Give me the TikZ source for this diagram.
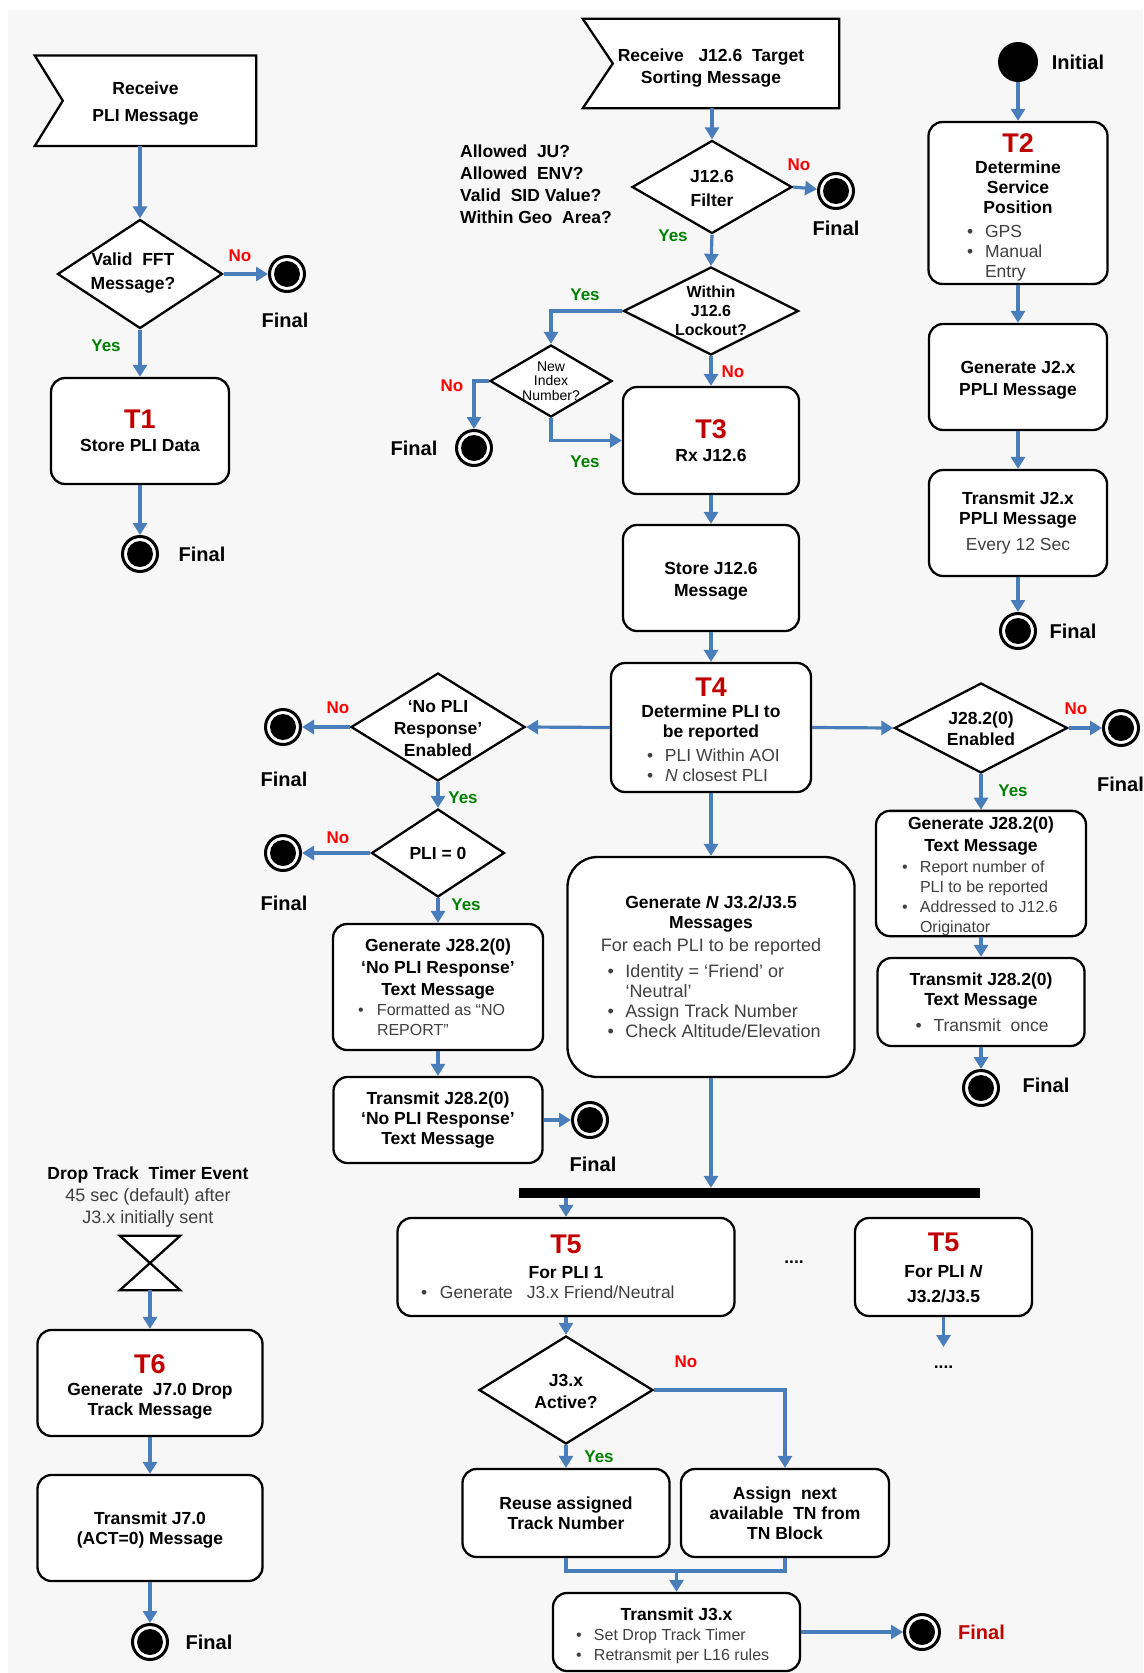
\documentclass[tikz,border=0pt]{standalone}
\usepackage{fontspec}
\setmainfont{Liberation Sans}
\usetikzlibrary{arrows.meta,shapes.geometric,backgrounds}
\definecolor{lblue}{RGB}{74,126,187}
\definecolor{tred}{RGB}{192,0,0}
\definecolor{nred}{RGB}{255,0,0}
\definecolor{ygreen}{RGB}{0,128,0}
\definecolor{dgray}{RGB}{64,64,64}
\definecolor{bggray}{RGB}{247,247,247}
\newcommand\bodyfont{\bfseries\fontsize{17.5}{20}\selectfont}
\newcommand\tlab[1]{{\fontsize{27}{27}\selectfont\color{tred}#1}}
\newcommand\rg{\mdseries\color{dgray}}
% extra head room above the first line of a box text
\newcommand\hr[1]{\rule{0pt}{#1pt}}
% bullet line: [font size]{block width}{bullet indent}{text}
\newcommand\bu[4][17.5]{\makebox[#2][l]{\rg\fontsize{#1}{20}\selectfont\makebox[#3][l]{\textbullet}#4}}
% continuation line of a bullet
\newcommand\bc[4][17.5]{\makebox[#2][l]{\rg\fontsize{#1}{20}\selectfont\hspace{#3}#4}}

\begin{document}
\begin{tikzpicture}[x=1pt,y=-1pt,
  conn/.style={draw=lblue,line width=3.2pt},
  arr/.style={conn,-{Triangle[length=12pt,width=14pt]}},
  box/.style={draw=black,line width=2.3pt,rounded corners=14pt,fill=white,align=center,inner sep=0pt,font=\bodyfont},
  bigbox/.style={box,rounded corners=30pt},
  dia/.style={diamond,draw=black,line width=2.3pt,fill=white,inner sep=0pt},
  txt/.style={align=center,inner sep=0pt,font=\bodyfont},
  wh/.style 2 args={minimum width=#1pt,minimum height=#2pt},
  fin/.style={circle,draw=black,line width=3pt,fill=white,minimum size=35pt,inner sep=0pt,
    path picture={\fill[black] (path picture bounding box.center) circle[radius=13pt];}},
  initnode/.style={circle,fill=black,minimum size=40pt,inner sep=0pt},
  flbl/.style={font=\bfseries\fontsize{20}{24}\selectfont,inner sep=0pt},
  yeslbl/.style={text=ygreen,font=\bfseries\fontsize{17}{20}\selectfont,inner sep=0pt},
  nolbl/.style={text=nred,font=\bfseries\fontsize{17}{20}\selectfont,inner sep=0pt},
  flagline/.style={draw=black,line width=2.3pt,fill=white},
]
\useasboundingbox (0,0) rectangle (1143,1673);

% ---------- PLI reception ----------
\node[txt,wh={221}{90}] (rcv) at (145.5,100.75) {\hr{18.7}Receive\\[7pt]PLI Message};
\node[dia,wh={165}{109}] (d1) at (140,274) {};
\node[txt] (d1t) at (133,273) {Valid\ \ FFT\\[4pt]Message?};
\node[nolbl] (no1) at (240,256) {No};
\node[fin] (fin1) at (287,274) {};
\node[flbl] (fin1l) at (285,320) {Final};
\node[yeslbl] (yes1) at (106,346) {Yes};
\node[box,wh={178}{106}] (t1) at (140,431) {\tlab{T1}\\[3pt]Store PLI Data};
\node[fin] (fin2) at (140,554) {};
\node[flbl] (fin2l) at (202,554) {Final};

% ---------- J12.6 reception ----------
\node[txt,wh={256}{89}] (rcv2) at (711,63.5) {\hr{21.5}Receive\ \ \ J12.6\ \ Target\\[2pt]Sorting Message};
\node[txt,align=left,anchor=west] (allow) at (460,184) {Allowed\ \ JU?\\[2pt]Allowed\ \ ENV?\\[2pt]Valid\ \ SID Value?\\[2pt]Within Geo\ \ Area?};
\node[dia,wh={160}{93}] (d2) at (712,187) {};
\node[txt] (d2t) at (712,188) {J12.6\\[4pt]Filter};
\node[nolbl] (no2) at (799,165) {No};
\node[fin] (fin3) at (836,191) {};
\node[flbl] (fin3l) at (836,228) {Final};
\node[yeslbl] (yes2) at (673,236) {Yes};
\node[dia,wh={175}{88}] (d3) at (711,311) {};
\node[txt,font=\bfseries\fontsize{16}{19}\selectfont] (d3t) at (711,311) {Within\\J12.6\\Lockout?};
\node[yeslbl] (yes3) at (585,295) {Yes};
\node[dia,wh={122}{72}] (d4) at (551,381) {};
\node[txt,font=\fontsize{14}{14.5}\selectfont] (d4t) at (551,381) {New\\Index\\Number?};
\node[nolbl] (no4) at (452,386) {No};
\node[fin] (fin4) at (474,448) {};
\node[flbl] (fin4l) at (414,448) {Final};
\node[yeslbl] (yes4) at (585,462) {Yes};
\node[nolbl] (no3) at (733,372) {No};
\node[box,wh={176}{107}] (t3) at (711,440.5) {\tlab{T3}\\[3pt]Rx J12.6};
\node[box,wh={176}{106}] (store) at (711,578) {\hr{19}Store J12.6\\[2pt]Message};
\node[box,wh={200}{129}] (t4) at (711,727.5) {\tlab{T4}\hr{23}\\[1pt]Determine PLI to\\be reported\\[4pt]\bu{128pt}{18pt}{PLI Within AOI}\\\bu{128pt}{18pt}{\textit{N} closest PLI}};

% J28.2(0) report branch
\node[dia,wh={173}{90}] (d5) at (981,728) {};
\node[txt] (d5t) at (981,729) {J28.2(0)\\[1pt]Enabled};
\node[nolbl] (no5) at (1076,709) {No};
\node[fin] (fin5) at (1121,728) {};
\node[flbl,anchor=west] (fin5l) at (1097,784) {Final};
\node[yeslbl] (yes5) at (1013,791) {Yes};
\node[box,wh={210}{125}] (g28) at (981,873.5) {\hr{19}Generate J28.2(0)\\[2pt]Text Message\\[1pt]\bu[16]{158pt}{18pt}{Report number of}\\\bc[16]{158pt}{18pt}{PLI to be reported}\\\bu[16]{158pt}{18pt}{Addressed to J12.6}\\\bc[16]{158pt}{18pt}{Originator}};
\node[box,wh={207}{88}] (tx28) at (981,1002) {Transmit J28.2(0)\\Text Message\\[6pt]\bu{131pt}{18pt}{Transmit\ \ once}};
\node[fin] (fin6) at (981,1088) {};
\node[flbl] (fin6l) at (1046,1085) {Final};

% J3.2/J3.5 generation
\node[bigbox,wh={287}{220}] (gen) at (711,967) {Generate \textit{N} J3.2/J3.5\\Messages\\[3pt]{\rg\fontsize{18}{20}\selectfont For each PLI to be reported}\\[6pt]\bu[18]{207pt}{18pt}{Identity = ‘Friend’ or}\\\bc[18]{207pt}{18pt}{‘Neutral’}\\\bu[18]{207pt}{18pt}{Assign Track Number}\\\bu[18]{207pt}{18pt}{Check Altitude/Elevation}};

% 'No PLI Response' branch
\node[dia,wh={174}{108}] (d6) at (438,727) {};
\node[txt] (d6t) at (438,729) {‘No PLI\\[2pt]Response’\\[2pt]Enabled};
\node[nolbl] (no6) at (338,708) {No};
\node[fin] (fin7) at (283,727) {};
\node[flbl] (fin7l) at (284,779) {Final};
\node[yeslbl] (yes6) at (463,798) {Yes};
\node[dia,wh={133}{88}] (d7) at (438,853) {};
\node[txt] (d7t) at (438,853) {PLI = 0};
\node[nolbl] (no7) at (338,838) {No};
\node[fin] (fin8) at (283,853) {};
\node[flbl] (fin8l) at (284,903) {Final};
\node[yeslbl] (yes7) at (466,905) {Yes};
\node[box,wh={210}{126}] (gnp) at (438,987) {Generate J28.2(0)\\[2pt]‘No PLI Response’\\[2pt]Text Message\\\bu[16]{160pt}{19pt}{Formatted as “NO}\\\bc[16]{160pt}{19pt}{REPORT”}};
\node[box,wh={209}{86}] (tnp) at (438,1120) {Transmit J28.2(0)\\‘No PLI Response’\\Text Message};
\node[fin] (fin9) at (590,1120) {};
\node[flbl] (fin9l) at (593,1164) {Final};

% ---------- fork and track number handling ----------
\node[fill=black,inner sep=0pt,wh={461}{10}] (bar) at (749.5,1193) {};
\node[box,wh={337}{98}] (t5a) at (566,1267) {\tlab{T5}\\[5pt]For PLI 1\\\bu{290pt}{19pt}{Generate\hspace{9pt} J3.x Friend/Neutral}};
\node[txt] (dots1) at (794,1262) {....};
\node[box,wh={177}{98}] (t5b) at (943.5,1267) {\tlab{T5}\hr{21}\\[6pt]For PLI \textit{N}\\[5pt]J3.2/J3.5};
\coordinate (endN) at (943.5,1347);
\node[txt] (dots2) at (943.5,1367) {....};
\node[dia,wh={174}{108}] (d8) at (566,1390) {};
\node[txt] (d8t) at (566,1391) {J3.x\\[2pt]Active?};
\node[nolbl] (no8) at (686,1362) {No};
\node[yeslbl] (yes8) at (599,1457) {Yes};
\node[box,wh={207}{88}] (reuse) at (566,1513) {Reuse assigned\\Track Number};
\node[box,wh={208}{88}] (assign) at (785,1513) {Assign\ \ next\\available\ \ TN from\\TN Block};
\coordinate (mj) at (676.5,1571);
\node[box,wh={247}{78}] (tj3) at (676.5,1632) {\hr{20.5}Transmit J3.x\\\bu[16]{201pt}{18pt}{Set Drop Track Timer}\\\bu[16]{201pt}{18pt}{Retransmit per L16 rules}};
\node[fin] (fin10) at (922,1632) {};
\node[flbl,text=tred] (fin10l) at (981.5,1632) {Final};

% ---------- drop track timer ----------
\node[txt] (drop) at (148,1197) {Drop Track\ \ Timer Event\\[2pt]{\rg\fontsize{18}{20}\selectfont 45 sec (default) after}\\[2pt]{\rg\fontsize{18}{20}\selectfont J3.x initially sent}};
\node[inner sep=0pt,wh={60}{54}] (hg) at (150,1263) {};
\draw[flagline] (hg.north west) -- (hg.north east) -- (hg.south west) -- (hg.south east) -- cycle;
\node[box,wh={225}{106}] (t6) at (150,1383) {\tlab{T6}\hr{27}\\[2pt]Generate\ \ J7.0 Drop\\Track Message};
\node[box,wh={225}{106}] (tj7) at (150,1528) {\hr{16.5}Transmit J7.0\\(ACT=0) Message};
\node[fin] (fin11) at (150,1642) {};
\node[flbl] (fin11l) at (209,1642) {Final};

% ---------- own position reporting ----------
\node[initnode] (init) at (1018,62) {};
\node[flbl] (initl) at (1078,62) {Initial};
\node[box,wh={179}{162}] (t2) at (1018,203) {\tlab{T2}\hr{27.5}\\[1pt]Determine\\Service\\Position\\[4pt]\bu{102pt}{18pt}{GPS}\\\bu{102pt}{18pt}{Manual}\\\bc{102pt}{18pt}{Entry}};
\node[box,wh={178}{106}] (gj2) at (1018,377) {\hr{19}Generate J2.x\\[2pt]PPLI Message};
\node[box,wh={178}{106}] (tj2) at (1018,523) {Transmit J2.x\\PPLI Message\\[6pt]{\rg Every 12 Sec}};
\node[fin] (fin12) at (1018,631) {};
\node[flbl] (fin12l) at (1073,631) {Final};

% ---------- connectors ----------
\draw[arr] (rcv.south -| d1.north) -- (d1.north);
\draw[arr] (d1.east) -- (fin1);
\draw[arr] (d1.south) -- (t1.north);
\draw[arr] (t1.south) -- (fin2);

\draw[arr] (rcv2.south -| d2.north) -- (d2.north);
\draw[arr] (d2.east) -- (fin3);
\draw[arr] (d2.south) -- (d3.north);
\draw[arr] (d3.west) -| (d4.north);
\draw[arr] (d4.west) -| (fin4.north);
\draw[arr] (d4.south) |- (t3.west);
\draw[arr] (d3.south) -- (t3.north);
\draw[arr] (t3.south) -- (store.north);
\draw[arr] (store.south) -- (t4.north);
\draw[arr] (t4.west) -- (d6.east);
\draw[arr] (t4.east) -- (d5.west);
\draw[arr] (d5.east) -- (fin5);
\draw[arr] (d5.south) -- (g28.north);
\draw[arr] (g28.south) -- (tx28.north);
\draw[arr] (tx28.south) -- (fin6);
\draw[arr] (t4.south) -- (gen.north);
\draw[arr] (gen.south) -- (gen.south |- bar.north);

\draw[arr] (d6.west) -- (fin7);
\draw[arr] (d6.south) -- (d7.north);
\draw[arr] (d7.west) -- (fin8);
\draw[arr] (d7.south) -- (gnp.north);
\draw[arr] (gnp.south) -- (tnp.north);
\draw[arr] (tnp.east) -- (fin9);

\draw[arr] (bar.south -| t5a.north) -- (t5a.north);
\draw[arr] (t5a.south) -- (d8.north);
\draw[arr] (t5b.south) -- (endN);
\draw[arr] (d8.south) -- (reuse.north);
\draw[arr] (d8.east) -| (assign.north);
\draw[conn] (reuse.south) |- (mj) -| (assign.south);
\draw[arr] (mj) -- (tj3.north);
\draw[arr] (tj3.east) -- (fin10);

\draw[arr] (hg.south) -- (t6.north);
\draw[arr] (t6.south) -- (tj7.north);
\draw[arr] (tj7.south) -- (fin11);

\draw[arr] (init) -- (t2.north);
\draw[arr] (t2.south) -- (gj2.north);
\draw[arr] (gj2.south) -- (tj2.north);
\draw[arr] (tj2.south) -- (fin12);

% ---------- page background and message-receipt flags ----------
\begin{scope}[on background layer]
\fill[bggray] (8,10) rectangle (1143,1673);
\draw[flagline] (rcv.north west) -- (rcv.north east) -- (rcv.south east) -- (rcv.south west) -- ([xshift=28pt]rcv.west) -- cycle;
\draw[flagline] (rcv2.north west) -- (rcv2.north east) -- (rcv2.south east) -- (rcv2.south west) -- ([xshift=30pt]rcv2.west) -- cycle;
\end{scope}
\end{tikzpicture}
\end{document}
